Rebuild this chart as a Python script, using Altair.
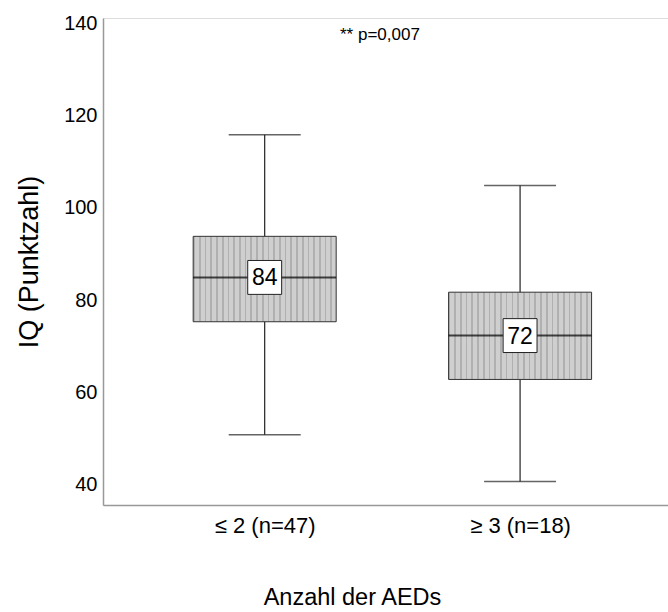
import altair as alt
import pandas as pd

groups = ["≤ 2 (n=47)", "≥ 3 (n=18)"]
idx = [0, 1]
whisker_low = [50.8, 40.7]
q1 = [75.3, 62.8]
median = [84.9, 72.3]
q3 = [93.8, 81.7]
whisker_high = [115.8, 104.8]
median_labels = ["84", "72"]
y_ticks = [40, 60, 80, 100, 120, 140]

df = pd.DataFrame({
    "idx": idx, "group": groups, "lo": whisker_low, "q1": q1,
    "med": median, "q3": q3, "hi": whisker_high, "lab": median_labels,
})

FONT = "Liberation Sans"
label_expr = " : ".join(
    [f"datum.value == {i} ? '{g}'" for i, g in zip(idx[:-1], groups[:-1])]
) + f" : '{groups[-1]}'"

# dotted-texture approximation: vertical stripes via hard-stop gradient
n_stripes = 25
stops = []
for k in range(n_stripes):
    a = k / n_stripes
    b = (k + 0.3) / n_stripes
    c = (k + 1) / n_stripes
    stops += [alt.GradientStop(offset=a, color="#b0b0b0"),
              alt.GradientStop(offset=b, color="#b0b0b0"),
              alt.GradientStop(offset=b, color="#cfcfcf"),
              alt.GradientStop(offset=c, color="#cfcfcf")]
box_fill = alt.LinearGradient(gradient="linear", stops=stops, x1=0, x2=1, y1=0, y2=0)

xscale = alt.Scale(domain=[-0.6135, 1.5596], nice=False, zero=False)
yscale = alt.Scale(domain=[35.6, 141.1], nice=False, zero=False)

xenc = alt.X("idx:Q", scale=xscale, axis=alt.Axis(
    values=idx, labelExpr=label_expr, title="Anzahl der AEDs",
    grid=False, ticks=False, labelFontSize=22, labelFont=FONT, labelColor="#000",
    labelPadding=10, titleFontSize=23.5, titleFont=FONT, titleFontWeight="normal",
    titleColor="#000", titleX=249, titleY=92, titleAnchor="start", titleAlign="center",
    titleBaseline="middle", domainColor="#999", domainWidth=1.5))
yenc = alt.Y("lo:Q", scale=yscale, axis=alt.Axis(
    values=y_ticks, title="IQ (Punktzahl)", grid=False, ticks=False,
    labelFontSize=20, labelFont=FONT, labelColor="#000", labelPadding=6,
    titleFontSize=27, titleFont=FONT, titleFontWeight="normal", titleColor="#000",
    titlePadding=20, domainColor="#999", domainWidth=1.5))

base = alt.Chart(df)

whisk = base.mark_rule(color="#222", strokeWidth=1.2).encode(x=xenc, y=yenc, y2="hi:Q")
cap_lo = base.mark_tick(orient="horizontal", size=72, thickness=1.5, color="#222").encode(
    x=alt.X("idx:Q", scale=xscale), y=alt.Y("lo:Q", scale=yscale))
cap_hi = base.mark_tick(orient="horizontal", size=72, thickness=1.5, color="#222").encode(
    x=alt.X("idx:Q", scale=xscale), y=alt.Y("hi:Q", scale=yscale))
box = base.mark_bar(size=143, fill=box_fill, stroke="#333", strokeWidth=1).encode(
    x=alt.X("idx:Q", scale=xscale), y=alt.Y("q1:Q", scale=yscale), y2="q3:Q")
med = base.mark_tick(orient="horizontal", size=143, thickness=2, color="#000").encode(
    x=alt.X("idx:Q", scale=xscale), y=alt.Y("med:Q", scale=yscale))
labbox = base.mark_point(shape="square", size=1150, filled=True, fill="white",
                         stroke="#222", strokeWidth=1, opacity=1).encode(
    x=alt.X("idx:Q", scale=xscale), y=alt.Y("med:Q", scale=yscale))
labtxt = base.mark_text(font=FONT, fontSize=23, color="#000", baseline="middle",
                        dy=1).encode(
    x=alt.X("idx:Q", scale=xscale), y=alt.Y("med:Q", scale=yscale), text="lab:N")
ptxt = alt.Chart(pd.DataFrame({"t": ["** p=0,007"]})).mark_text(
    font=FONT, fontSize=17, color="#000", align="left", baseline="middle").encode(
    x=alt.value(237), y=alt.value(17), text="t:N")

chart = alt.layer(whisk, cap_lo, cap_hi, box, med, labbox, labtxt, ptxt).properties(
    width=565, height=487,
    autosize=alt.AutoSizeParams(type="none"),
    padding={"left": 103, "top": 18, "right": 0, "bottom": 107},
).configure_view(stroke=None).configure(background="white")

chart.save("out.html", embed_options={"renderer": "svg", "actions": False})
